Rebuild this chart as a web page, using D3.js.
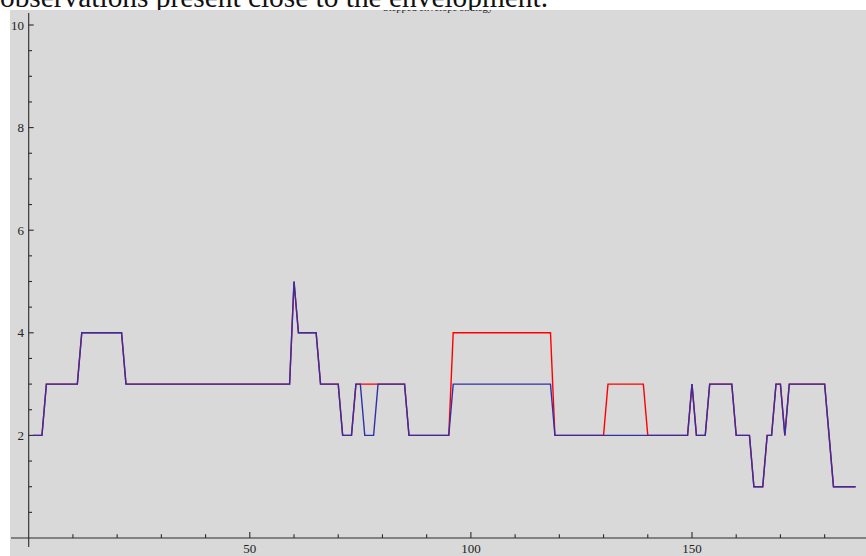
<!DOCTYPE html>
<html>
<head>
<meta charset="utf-8">
<script src="https://cdn.jsdelivr.net/npm/d3@7"></script>
<style>
  html, body { margin: 0; padding: 0; background: #ffffff; }
  svg { display: block; }
</style>
</head>
<body>
<svg id="chart" width="866" height="556"></svg>
<script>
// Step counts per observation (x = 1 … 187)
const redSeries = [
  2,2,2,3,3,3,3,3,3,3,
  3,4,4,4,4,4,4,4,4,4,
  4,3,3,3,3,3,3,3,3,3,
  3,3,3,3,3,3,3,3,3,3,
  3,3,3,3,3,3,3,3,3,3,
  3,3,3,3,3,3,3,3,3,5,
  4,4,4,4,4,3,3,3,3,3,
  2,2,2,3,3,3,3,3,3,3,
  3,3,3,3,3,2,2,2,2,2,
  2,2,2,2,2,4,4,4,4,4,
  4,4,4,4,4,4,4,4,4,4,
  4,4,4,4,4,4,4,4,2,2,
  2,2,2,2,2,2,2,2,2,2,
  3,3,3,3,3,3,3,3,3,2,
  2,2,2,2,2,2,2,2,2,3,
  2,2,2,3,3,3,3,3,3,2,
  2,2,2,1,1,1,2,2,3,3,
  2,3,3,3,3,3,3,3,3,3,
  2,1,1,1,1,1,1
];
const blueSeries = [
  2,2,2,3,3,3,3,3,3,3,
  3,4,4,4,4,4,4,4,4,4,
  4,3,3,3,3,3,3,3,3,3,
  3,3,3,3,3,3,3,3,3,3,
  3,3,3,3,3,3,3,3,3,3,
  3,3,3,3,3,3,3,3,3,5,
  4,4,4,4,4,3,3,3,3,3,
  2,2,2,3,3,2,2,2,3,3,
  3,3,3,3,3,2,2,2,2,2,
  2,2,2,2,2,3,3,3,3,3,
  3,3,3,3,3,3,3,3,3,3,
  3,3,3,3,3,3,3,3,2,2,
  2,2,2,2,2,2,2,2,2,2,
  2,2,2,2,2,2,2,2,2,2,
  2,2,2,2,2,2,2,2,2,3,
  2,2,2,3,3,3,3,3,3,2,
  2,2,2,1,1,1,2,2,3,3,
  2,3,3,3,3,3,3,3,3,3,
  2,1,1,1,1,1,1
];
const xMajorTicks = [50, 100, 150];
const xMinorTicks = [10, 20, 30, 40, 60, 70, 80, 90, 110, 120, 130, 140, 160, 170, 180];
const yMajorTicks = [2, 4, 6, 8, 10];
const yMinorTicks = [0.5, 1, 1.5, 2.5, 3, 3.5, 4.5, 5, 5.5, 6.5, 7, 7.5, 8.5, 9, 9.5];

const headerText = "observations present close to the envelopment.";
const plotLabel = "Stepped envelope strategy";

const svg = d3.select("#chart");
const W = 866, H = 556;

const x = d3.scaleLinear().domain([0, 187]).range([28.7, 855.6]);
const y = d3.scaleLinear().domain([0, 10]).range([538, 25]);

// panel background
svg.append("rect")
  .attr("x", 10).attr("y", 10)
  .attr("width", W - 10).attr("height", H - 10)
  .attr("fill", "#d9d9d9");

// plot label (mostly hidden under the page text strip)
svg.append("text")
  .attr("x", 438).attr("y", 10.5)
  .attr("text-anchor", "middle")
  .attr("font-family", "'Liberation Serif', 'DejaVu Serif', serif")
  .attr("font-size", 10.5)
  .attr("fill", "#222")
  .text(plotLabel);

// white strip with the page text above the panel
svg.append("rect")
  .attr("x", 0).attr("y", 0).attr("width", W).attr("height", 10)
  .attr("fill", "#ffffff");
svg.append("rect")
  .attr("x", 0).attr("y", 10).attr("width", 10).attr("height", H - 10)
  .attr("fill", "#ffffff");

svg.append("defs").append("clipPath").attr("id", "topStrip")
  .append("rect").attr("x", 0).attr("y", 0).attr("width", W).attr("height", 10);

svg.append("text")
  .attr("clip-path", "url(#topStrip)")
  .attr("x", 0).attr("y", 7)
  .attr("font-family", "'Liberation Serif', 'DejaVu Serif', serif")
  .attr("font-size", 29.4)
  .attr("textLength", 548)
  .attr("lengthAdjust", "spacingAndGlyphs")
  .attr("fill", "#111")
  .text(headerText);

// axes
const axisColor = "#2b2b2b";
const axes = svg.append("g").attr("stroke", axisColor).attr("stroke-width", 1.1);
axes.append("line").attr("x1", 11).attr("x2", W).attr("y1", y(0)).attr("y2", y(0));
axes.append("line").attr("x1", x(0)).attr("x2", x(0)).attr("y1", 13).attr("y2", 547);

// x ticks (pointing up)
axes.selectAll("line.xmaj").data(xMajorTicks).join("line")
  .attr("class", "xmaj")
  .attr("x1", d => x(d)).attr("x2", d => x(d))
  .attr("y1", y(0)).attr("y2", y(0) - 6);
axes.selectAll("line.xmin").data(xMinorTicks).join("line")
  .attr("class", "xmin")
  .attr("x1", d => x(d)).attr("x2", d => x(d))
  .attr("y1", y(0)).attr("y2", y(0) - 3.7);

// y ticks (pointing right)
axes.selectAll("line.ymaj").data(yMajorTicks).join("line")
  .attr("class", "ymaj")
  .attr("x1", x(0)).attr("x2", x(0) + 5)
  .attr("y1", d => y(d)).attr("y2", d => y(d));
axes.selectAll("line.ymin").data(yMinorTicks).join("line")
  .attr("class", "ymin")
  .attr("x1", x(0)).attr("x2", x(0) + 3.3)
  .attr("y1", d => y(d)).attr("y2", d => y(d));

const labelFont = "'Liberation Serif', 'DejaVu Serif', serif";
svg.selectAll("text.xlab").data(xMajorTicks).join("text")
  .attr("class", "xlab")
  .attr("x", d => x(d)).attr("y", 553)
  .attr("text-anchor", "middle")
  .attr("font-family", labelFont).attr("font-size", 13)
  .attr("fill", "#222")
  .text(d => d);
svg.selectAll("text.ylab").data(yMajorTicks).join("text")
  .attr("class", "ylab")
  .attr("x", 24).attr("y", d => y(d) + 4.5)
  .attr("text-anchor", "end")
  .attr("font-family", labelFont).attr("font-size", 13)
  .attr("fill", "#222")
  .text(d => d);

// series lines: red first, blue on top
const line = d3.line().x((d, i) => x(i + 1)).y(d => y(d));
svg.append("path").datum(redSeries)
  .attr("d", line)
  .attr("fill", "none").attr("stroke", "#ff0000").attr("stroke-width", 1.4)
  .attr("stroke-linejoin", "miter");
svg.append("path").datum(blueSeries)
  .attr("d", line)
  .attr("fill", "none").attr("stroke", "#3030a8").attr("stroke-width", 1.4)
  .attr("stroke-linejoin", "miter");
</script>
</body>
</html>
